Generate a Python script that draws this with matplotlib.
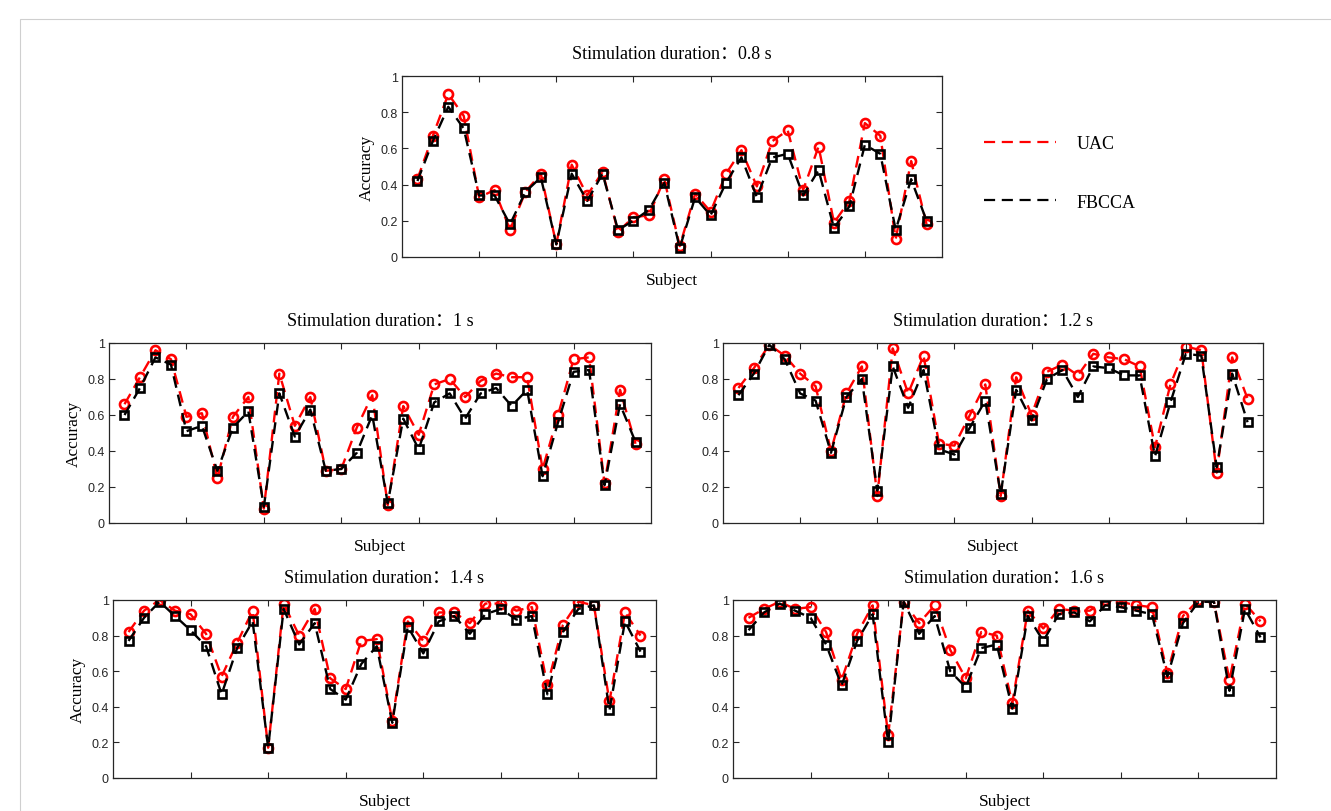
import matplotlib
matplotlib.use("Agg")
import matplotlib.pyplot as plt
from matplotlib.lines import Line2D
from matplotlib.patches import Rectangle
import numpy as np

# Accuracy per subject for UAC vs FBCCA at several stimulation durations
durations = ["0.8", "1", "1.2", "1.4", "1.6"]

uac_08 = [0.43, 0.67, 0.90, 0.78, 0.33, 0.37, 0.15, 0.36, 0.46, 0.07, 0.51, 0.34, 0.47, 0.14, 0.22, 0.23, 0.43,
          0.06, 0.35, 0.25, 0.46, 0.59, 0.39, 0.64, 0.70, 0.37, 0.61, 0.19, 0.31, 0.74, 0.67, 0.10, 0.53, 0.18]
fbcca_08 = [0.42, 0.64, 0.83, 0.71, 0.34, 0.34, 0.18, 0.36, 0.44, 0.07, 0.46, 0.31, 0.46, 0.15, 0.20, 0.26, 0.41,
            0.05, 0.33, 0.23, 0.41, 0.55, 0.33, 0.55, 0.57, 0.34, 0.48, 0.16, 0.28, 0.62, 0.57, 0.15, 0.43, 0.20]

uac_10 = [0.66, 0.81, 0.96, 0.91, 0.59, 0.61, 0.25, 0.59, 0.70, 0.08, 0.83, 0.54, 0.70, 0.29, 0.30, 0.53, 0.71,
          0.10, 0.65, 0.49, 0.77, 0.80, 0.70, 0.79, 0.83, 0.81, 0.81, 0.30, 0.60, 0.91, 0.92, 0.22, 0.74, 0.44]
fbcca_10 = [0.60, 0.75, 0.92, 0.88, 0.51, 0.54, 0.29, 0.53, 0.62, 0.09, 0.72, 0.48, 0.63, 0.29, 0.30, 0.39, 0.60,
            0.11, 0.58, 0.41, 0.67, 0.72, 0.58, 0.72, 0.75, 0.65, 0.74, 0.26, 0.56, 0.84, 0.85, 0.21, 0.66, 0.45]

uac_12 = [0.75, 0.86, 0.99, 0.93, 0.83, 0.76, 0.40, 0.72, 0.87, 0.15, 0.97, 0.72, 0.93, 0.44, 0.43, 0.60, 0.77,
          0.15, 0.81, 0.60, 0.84, 0.88, 0.82, 0.94, 0.92, 0.91, 0.87, 0.42, 0.77, 0.98, 0.96, 0.28, 0.92, 0.69]
fbcca_12 = [0.71, 0.83, 0.99, 0.91, 0.72, 0.68, 0.39, 0.70, 0.80, 0.18, 0.87, 0.64, 0.85, 0.41, 0.38, 0.53, 0.68,
            0.16, 0.74, 0.57, 0.80, 0.85, 0.70, 0.87, 0.86, 0.82, 0.82, 0.37, 0.67, 0.94, 0.93, 0.31, 0.83, 0.56]

uac_14 = [0.82, 0.94, 1.00, 0.94, 0.92, 0.81, 0.57, 0.76, 0.94, 0.17, 0.98, 0.80, 0.95, 0.56, 0.50, 0.77, 0.78,
          0.32, 0.88, 0.77, 0.93, 0.93, 0.87, 0.98, 0.98, 0.94, 0.96, 0.52, 0.86, 0.99, 0.97, 0.43, 0.93, 0.80]
fbcca_14 = [0.77, 0.90, 0.99, 0.91, 0.83, 0.74, 0.47, 0.73, 0.88, 0.17, 0.95, 0.75, 0.87, 0.50, 0.44, 0.64, 0.74,
            0.31, 0.85, 0.70, 0.88, 0.91, 0.81, 0.92, 0.95, 0.89, 0.91, 0.47, 0.82, 0.95, 0.97, 0.38, 0.88, 0.71]

uac_16 = [0.90, 0.95, 0.99, 0.95, 0.96, 0.82, 0.55, 0.81, 0.97, 0.24, 0.99, 0.87, 0.97, 0.72, 0.56, 0.82, 0.80,
          0.42, 0.94, 0.84, 0.95, 0.94, 0.94, 1.00, 0.99, 0.97, 0.96, 0.59, 0.91, 1.00, 0.99, 0.55, 0.98, 0.88]
fbcca_16 = [0.83, 0.93, 0.98, 0.94, 0.90, 0.75, 0.52, 0.77, 0.92, 0.20, 0.99, 0.81, 0.91, 0.60, 0.51, 0.73, 0.75,
            0.39, 0.91, 0.77, 0.92, 0.93, 0.88, 0.97, 0.96, 0.94, 0.92, 0.57, 0.87, 0.99, 0.99, 0.49, 0.95, 0.79]

uac = [uac_08, uac_10, uac_12, uac_14, uac_16]
fbcca = [fbcca_08, fbcca_10, fbcca_12, fbcca_14, fbcca_16]

W, H = 1331, 812
# axes boxes in pixels (left, top, right, bottom)
boxes = [(402, 77, 942, 258), (109, 344, 651, 524), (723, 344, 1263, 524),
         (113, 601, 656, 779), (733, 601, 1276, 779)]
show_ylabel = [True, True, False, True, False]

serif = ["Liberation Serif", "Noto Sans CJK SC"]
tick_col = "#262626"

fig = plt.figure(figsize=(W / 100, H / 100), dpi=100)
fig.patches.append(Rectangle((20 / W, 0), 1, 1 - 20 / H, transform=fig.transFigure,
                             fill=False, edgecolor="#cfcfcf", linewidth=0.8))

dash = (0, (5, 3))
for i, (x0, y0, x1, y1) in enumerate(boxes):
    ax = fig.add_axes([x0 / W, 1 - y1 / H, (x1 - x0) / W, (y1 - y0) / H])
    subj = np.arange(1, len(uac[i]) + 1)
    ax.plot(subj, uac[i], color="red", linestyle=dash, linewidth=1.7,
            marker="o", markersize=6.5, markerfacecolor="none", markeredgewidth=1.9)
    ax.plot(subj, fbcca[i], color="black", linestyle=dash, linewidth=1.7,
            marker="s", markersize=6, markerfacecolor="none", markeredgewidth=1.9)
    ax.set_xlim(0, 35)
    ax.set_ylim(0, 1)
    ax.set_xticks([5, 10, 15, 20, 25, 30])
    ax.set_xticklabels([])
    ax.set_yticks([0, 0.2, 0.4, 0.6, 0.8, 1])
    ax.set_yticklabels(["0", "0.2", "0.4", "0.6", "0.8", "1"])
    ax.tick_params(direction="in", length=4, width=0.8, top=True, right=True,
                   labelsize=9, labelcolor=tick_col, color=tick_col, pad=3)
    for lab in ax.get_yticklabels():
        lab.set_family("Liberation Sans")
    for sp in ax.spines.values():
        sp.set_linewidth(0.9)
        sp.set_color(tick_col)
    ax.set_title("Stimulation duration：" + durations[i] + " s", family=serif,
                 fontsize=13, pad=13)
    ax.set_xlabel("Subject", family=serif, fontsize=12.5, labelpad=8)
    if show_ylabel[i]:
        ax.set_ylabel("Accuracy", family=serif, fontsize=12.5, labelpad=4)

# legend placed to the right of the top panel
handles = [Line2D([], [], color="red", linestyle=dash, linewidth=1.6),
           Line2D([], [], color="black", linestyle=dash, linewidth=1.6)]
fig.legend(handles, ["UAC", "FBCCA"], loc="upper left",
           bbox_to_anchor=(968 / W, 1 - 120 / H), frameon=False,
           prop={"family": serif, "size": 13}, handlelength=4.0,
           labelspacing=2.3, handletextpad=1.1)

fig.savefig("out.png", dpi=100)
